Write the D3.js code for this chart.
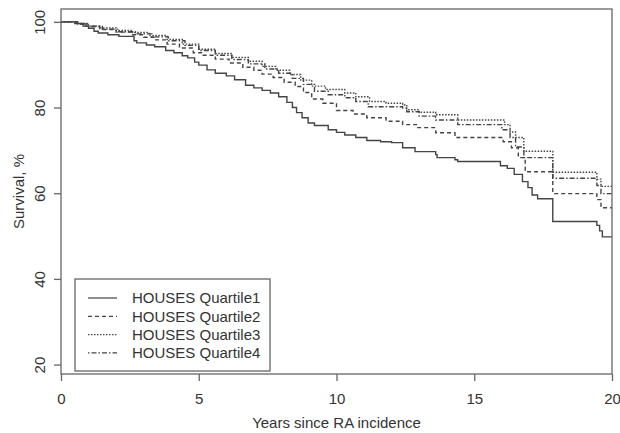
<!DOCTYPE html>
<html>
<head>
<meta charset="utf-8">
<script src="https://cdn.jsdelivr.net/npm/d3@7"></script>
<style>
  body { margin: 0; background: #fff; }
  text { font-family: "Liberation Sans", Arial, sans-serif; fill: #333; }
</style>
</head>
<body>
<div id="vis"></div>
<script>
var width = 620,
    height = 433;

// Kaplan-Meier steps, [years, survival %]
var q1 = [[0,100],[0.5,99.6],[0.8,99],[1.0,98.5],[1.2,97.8],[1.35,97.4],[1.7,97.0],[2.1,96.6],[2.65,95.6],[2.75,95.1],
  [3.1,94.6],[3.4,94.2],[3.8,93.3],[4.1,92.8],[4.4,92.1],[4.6,91.6],[4.85,90.6],[5.0,89.9],[5.3,88.8],[5.6,88.0],
  [6.0,87.4],[6.3,86.5],[6.7,85.2],[7.0,84.6],[7.3,84.0],[7.6,83.4],[7.9,82.5],[8.2,81.2],[8.4,80.0],[8.55,78.8],
  [8.75,77.6],[8.97,76.4],[9.2,75.8],[9.7,74.8],[10.0,74.2],[10.3,73.6],[10.7,73.0],[11.1,72.3],[11.6,72.0],[12.0,71.8],
  [12.4,70.6],[12.85,69.7],[13.6,69.0],[13.65,68.3],[14.3,67.8],[14.4,67.4],[15.95,66.4],[16.2,65.8],[16.45,64.4],
  [16.75,62.7],[16.95,61.3],[17.1,59.6],[17.3,58.7],[17.85,53.4],[19.45,52.5],[19.55,51.2],[19.65,49.8]];

var q2 = [[0,100],[0.6,99.5],[0.9,99.0],[1.4,98.2],[2.0,97.6],[2.6,97.0],[3.0,96.4],[3.4,95.8],[3.85,94.8],[4.3,93.9],
  [4.8,92.8],[5.1,92.2],[5.6,91.3],[6.1,90.4],[6.6,89.4],[7.0,88.7],[7.3,87.8],[7.7,87.0],[8.1,85.9],[8.5,84.9],
  [8.8,83.5],[9.1,82.0],[9.5,81.0],[10.0,79.3],[10.6,78.5],[11.1,77.6],[11.8,76.8],[12.4,76.0],[12.95,75.3],[13.6,74.1],
  [14.3,73.0],[16.05,72.0],[16.35,70.6],[16.6,68.3],[16.85,65.0],[17.85,59.9],[19.45,58.5],[19.6,56.6]];

var q3 = [[0,100],[0.6,99.6],[1.0,99.0],[1.4,98.6],[2.0,98.0],[2.6,97.5],[3.2,96.8],[3.85,95.9],[4.4,94.8],[5.0,93.6],
  [5.6,92.6],[6.2,91.7],[6.8,90.8],[7.3,89.6],[7.8,88.7],[8.3,87.7],[8.7,86.4],[9.1,85.0],[9.6,84.2],[10.3,83.4],
  [10.7,82.5],[11.2,81.4],[11.8,81.0],[12.4,80.6],[12.55,79.5],[13.0,78.9],[13.6,78.3],[14.4,77.1],[16.1,76.0],
  [16.3,74.3],[16.5,73.0],[16.8,69.8],[17.85,64.9],[19.45,63.3],[19.6,61.6]];

var q4 = [[0,100],[0.6,99.5],[1.0,98.9],[1.5,98.3],[2.1,97.7],[2.7,97.2],[3.3,96.5],[3.9,95.6],[4.5,94.5],[5.0,93.3],
  [5.6,92.2],[6.2,91.2],[6.8,90.2],[7.4,89.0],[7.9,88.0],[8.4,86.8],[8.8,85.4],[9.2,83.8],[9.7,83.0],[10.3,82.3],
  [10.7,81.4],[11.15,80.2],[12.4,79.9],[12.55,79.0],[13.0,78.0],[13.6,77.1],[14.4,76.0],[16.0,74.8],[16.3,73.0],
  [16.5,70.8],[16.8,68.3],[17.85,63.5],[19.45,61.8],[19.6,59.9]];

var seriesNames = ["HOUSES Quartile1", "HOUSES Quartile2", "HOUSES Quartile3", "HOUSES Quartile4"];
var dashes = ["none", "4,3", "1.5,1.5", "1.5,2,5,2"];
var xTicks = [0, 5, 10, 15, 20];
var yTicks = [20, 40, 60, 80, 100];

var svg = d3.select("#vis").append("svg")
    .attr("width", width)
    .attr("height", height);

// plot box (note: "top" is taken by window.top, so use box*)
var boxLeft = 61, boxRight = 612, boxTop = 9, boxBottom = 374;

var x = d3.scaleLinear().domain([0, 20]).range([boxLeft, boxRight]);
var y = d3.scaleLinear().domain([17.8, 103.0]).range([boxBottom, boxTop]);

var line = d3.line()
    .x(function(d) { return x(d[0]); })
    .y(function(d) { return y(d[1]); })
    .curve(d3.curveStepAfter);

var allSeries = [q1, q2, q3, q4];

svg.selectAll(".km")
    .data(allSeries)
    .enter()
    .append("path")
    .attr("class", "km")
    .attr("d", function(d) { return line(d.concat([[20, d[d.length - 1][1]]])); })
    .attr("fill", "none")
    .attr("stroke", "#444")
    .attr("stroke-width", 1.4)
    .attr("stroke-dasharray", function(d, i) { return dashes[i]; });

// box
svg.append("rect")
    .attr("x", boxLeft)
    .attr("y", boxTop)
    .attr("width", boxRight - boxLeft)
    .attr("height", boxBottom - boxTop)
    .attr("fill", "none")
    .attr("stroke", "#666")
    .attr("stroke-width", 1.3);

// axes
var xAxis = svg.append("g")
    .attr("transform", "translate(0," + boxBottom + ")")
    .call(d3.axisBottom(x).tickValues(xTicks).tickSize(7).tickPadding(12));

var yAxis = svg.append("g")
    .attr("transform", "translate(" + boxLeft + ",0)")
    .call(d3.axisLeft(y).tickValues(yTicks).tickSize(7));

[xAxis, yAxis].forEach(function(a) {
    a.select(".domain").remove();
    a.selectAll("line").attr("stroke", "#666").attr("stroke-width", 1.3);
    a.selectAll("text").style("font-size", "15px").style("fill", "#333")
        .style("font-family", "'Liberation Sans', Arial, sans-serif");
});

// R style: y labels run parallel to the axis
yAxis.selectAll(".tick text")
    .attr("x", null)
    .attr("dy", null)
    .attr("transform", "translate(-16,0) rotate(-90)")
    .attr("text-anchor", "middle");

svg.append("text")
    .attr("x", (boxLeft + boxRight) / 2)
    .attr("y", 428)
    .attr("text-anchor", "middle")
    .style("font-size", "15px")
    .text("Years since RA incidence");

svg.append("text")
    .attr("transform", "translate(24," + (boxTop + boxBottom) / 2 + ") rotate(-90)")
    .attr("text-anchor", "middle")
    .style("font-size", "15px")
    .text("Survival, %");

//----------LEGEND---------//
var legend = svg.append("g").attr("id", "legend");

legend.append("rect")
    .attr("x", 75)
    .attr("y", 279)
    .attr("width", 195)
    .attr("height", 92)
    .attr("fill", "#fff")
    .attr("stroke", "#666")
    .attr("stroke-width", 1.3);

var legenditem = legend.selectAll(".legenditem")
    .data(seriesNames)
    .enter()
    .append("g")
    .attr("class", "legenditem")
    .attr("transform", function(d, i) { return "translate(0," + (298 + i * 18.3) + ")"; });

legenditem.append("line")
    .attr("x1", 88)
    .attr("x2", 117)
    .attr("stroke", "#444")
    .attr("stroke-width", 1.2)
    .attr("stroke-dasharray", function(d, i) { return dashes[i]; });

legenditem.append("text")
    .attr("x", 132)
    .attr("dy", "0.36em")
    .style("font-size", "15px")
    .text(function(d) { return d; });
</script>
</body>
</html>
